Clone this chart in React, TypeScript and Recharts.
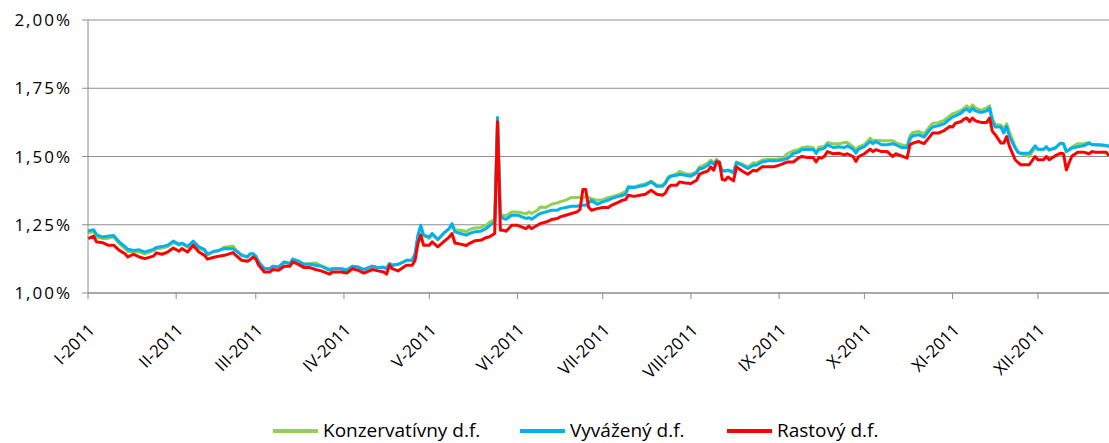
import React from "react";
import { LineChart, Line, CartesianGrid, XAxis, YAxis, Legend } from "recharts";

// day of year 2011 (0 = 1. január)
const days = [
  0, 2, 3, 5, 7, 9, 11, 13, 14, 16, 18, 20, 23, 24, 26, 28, 30, 32, 33, 35, 37, 39, 41, 42, 44, 46, 48, 51,
  52, 54, 56, 57, 58, 59, 60, 62, 64, 65, 67, 69, 71, 72, 74, 76, 78, 80, 82, 85, 86, 89, 91, 93, 95, 97, 100, 102,
  104, 105, 106, 107, 109, 111, 112, 114, 115, 116, 117, 118, 120, 121, 123, 125, 127, 128, 129, 131, 133, 134, 136,
  138, 140, 141, 143, 144, 145, 146, 147, 149, 151, 154,
  155, 156, 158, 159, 161, 163, 165, 166, 168, 170, 172, 173, 174, 175, 176, 177, 179, 181, 183, 184, 186, 188, 189,
  190, 192, 194, 196, 198, 200, 202, 203, 204, 205,
  207, 208, 210, 212, 214, 215, 216, 218, 219, 220, 221, 222, 223, 224, 225, 227, 228, 230, 232, 234, 235, 237, 239,
  241, 242, 244, 246, 248, 250, 251, 253, 255, 256, 257,
  258, 259, 260, 262, 264, 266, 267, 269, 270, 271, 273, 275, 276, 277, 279, 281, 283, 284, 286, 288, 289, 290, 292,
  294, 296, 297, 299, 301, 303, 304, 305, 307, 308,
  309, 310, 311, 312, 314, 316, 317, 318, 319, 321, 322, 323, 324, 326, 327, 328, 330, 331, 333, 334, 336, 337, 338,
  340, 342, 343, 344, 345, 346, 348, 350, 352, 353, 354, 356, 358, 359,
];

const rastovy = [
  1.199, 1.208, 1.187, 1.185, 1.175, 1.175, 1.156, 1.144, 1.132, 1.142, 1.132, 1.126, 1.135, 1.147, 1.142, 1.15, 1.165,
  1.153, 1.163, 1.15, 1.175, 1.15, 1.138, 1.124, 1.13, 1.135, 1.138, 1.148,
  1.138, 1.12, 1.116, 1.122, 1.132, 1.124, 1.102, 1.077, 1.077, 1.086, 1.083, 1.098, 1.098, 1.114, 1.105, 1.093, 1.093,
  1.086, 1.081, 1.069, 1.077, 1.077, 1.073, 1.089, 1.083, 1.073, 1.086, 1.081,
  1.077, 1.069, 1.102, 1.089, 1.081, 1.095, 1.102, 1.102, 1.12, 1.181, 1.212, 1.175, 1.175, 1.187, 1.169, 1.187, 1.205,
  1.218, 1.183, 1.179, 1.174, 1.181, 1.191, 1.193, 1.203, 1.205, 1.218, 1.627, 1.23, 1.23, 1.226, 1.248, 1.248, 1.236,
  1.245, 1.236, 1.248, 1.254, 1.26, 1.269, 1.273, 1.279, 1.285, 1.291, 1.297, 1.306, 1.379, 1.379, 1.315, 1.303, 1.309,
  1.313, 1.313, 1.321, 1.33, 1.34, 1.342, 1.358, 1.354, 1.358, 1.362, 1.376, 1.362, 1.358, 1.366, 1.386, 1.395,
  1.395, 1.407, 1.403, 1.401, 1.413, 1.435, 1.44, 1.447, 1.462, 1.45, 1.48, 1.48, 1.416, 1.413, 1.425, 1.411, 1.462,
  1.447, 1.435, 1.45, 1.447, 1.462, 1.462, 1.462, 1.465, 1.472, 1.48, 1.48, 1.496, 1.5, 1.496, 1.496, 1.48, 1.496,
  1.494, 1.502, 1.518, 1.51, 1.512, 1.506, 1.51, 1.5, 1.482, 1.5, 1.51, 1.527, 1.518, 1.525, 1.518, 1.518, 1.5, 1.51,
  1.502, 1.494, 1.543, 1.549, 1.555, 1.547, 1.573, 1.586, 1.586, 1.595, 1.61, 1.608, 1.622, 1.628, 1.637,
  1.641, 1.628, 1.641, 1.631, 1.625, 1.625, 1.641, 1.592, 1.58, 1.549, 1.549, 1.573, 1.537, 1.488, 1.478, 1.47, 1.47,
  1.47, 1.5, 1.488, 1.488, 1.5, 1.488, 1.502, 1.512, 1.51, 1.451, 1.478, 1.502, 1.516, 1.516, 1.51, 1.518, 1.516,
  1.516, 1.516, 1.502,
];

const vyvazeny = [
  1.227, 1.232, 1.214, 1.205, 1.208, 1.211, 1.187, 1.17, 1.16, 1.156, 1.158, 1.15, 1.16, 1.167, 1.17, 1.175, 1.19,
  1.178, 1.183, 1.171, 1.19, 1.169, 1.159, 1.142, 1.152, 1.156, 1.163, 1.162,
  1.155, 1.138, 1.132, 1.144, 1.144, 1.135, 1.114, 1.089, 1.089, 1.098, 1.095, 1.114, 1.108, 1.124, 1.117, 1.105, 1.105,
  1.102, 1.098, 1.083, 1.089, 1.089, 1.083, 1.098, 1.095, 1.086, 1.098, 1.093,
  1.094, 1.089, 1.108, 1.102, 1.105, 1.114, 1.12, 1.12, 1.144, 1.212, 1.248, 1.212, 1.205, 1.218, 1.196, 1.218, 1.236,
  1.254, 1.224, 1.218, 1.212, 1.218, 1.224, 1.226, 1.236, 1.245, 1.26, 1.643, 1.285, 1.273, 1.27, 1.285, 1.285, 1.273,
  1.276, 1.27, 1.285, 1.291, 1.297, 1.303, 1.303, 1.309, 1.313, 1.318, 1.318, 1.321, 1.321, 1.321, 1.33, 1.34, 1.325,
  1.334, 1.34, 1.346, 1.352, 1.358, 1.362, 1.386, 1.386, 1.391, 1.395, 1.407, 1.391, 1.391, 1.401, 1.419, 1.428,
  1.431, 1.435, 1.431, 1.428, 1.44, 1.456, 1.456, 1.468, 1.48, 1.472, 1.484, 1.47, 1.447, 1.447, 1.45, 1.44, 1.477,
  1.468, 1.456, 1.468, 1.468, 1.48, 1.484, 1.484, 1.484, 1.487, 1.493, 1.511, 1.517, 1.526, 1.526, 1.526, 1.511, 1.526,
  1.527, 1.531, 1.543, 1.533, 1.536, 1.533, 1.539, 1.527, 1.512, 1.527, 1.536, 1.555, 1.547, 1.555, 1.543, 1.543,
  1.547, 1.543, 1.533, 1.533, 1.564, 1.576, 1.58, 1.571, 1.598, 1.608, 1.613, 1.62, 1.637, 1.645, 1.649, 1.659, 1.669,
  1.674, 1.664, 1.677, 1.667, 1.661, 1.667, 1.677, 1.628, 1.608, 1.608, 1.586, 1.61, 1.573, 1.531, 1.515, 1.512, 1.512,
  1.512, 1.539, 1.527, 1.527, 1.536, 1.525, 1.531, 1.549, 1.547, 1.518, 1.525, 1.531, 1.536, 1.539, 1.549, 1.543,
  1.543, 1.543, 1.54, 1.539,
];

const konzervativny = [
  1.22, 1.225, 1.205, 1.2, 1.2, 1.205, 1.18, 1.163, 1.152, 1.15, 1.15, 1.143, 1.155, 1.162, 1.165, 1.17, 1.185, 1.175,
  1.18, 1.168, 1.187, 1.165, 1.155, 1.14, 1.15, 1.155, 1.168, 1.172,
  1.158, 1.14, 1.133, 1.142, 1.144, 1.135, 1.114, 1.09, 1.09, 1.098, 1.095, 1.112, 1.108, 1.124, 1.117, 1.105, 1.108,
  1.11, 1.1, 1.087, 1.09, 1.09, 1.085, 1.098, 1.095, 1.086, 1.098, 1.093,
  1.094, 1.089, 1.108, 1.102, 1.105, 1.114, 1.12, 1.12, 1.14, 1.205, 1.24, 1.21, 1.2, 1.215, 1.195, 1.218, 1.236, 1.25,
  1.232, 1.23, 1.225, 1.232, 1.238, 1.24, 1.248, 1.258, 1.27, 1.64, 1.285, 1.285, 1.283, 1.297, 1.297, 1.29,
  1.297, 1.291, 1.303, 1.315, 1.313, 1.325, 1.33, 1.334, 1.34, 1.35, 1.35, 1.35, 1.35, 1.352, 1.35, 1.345, 1.34, 1.342,
  1.35, 1.352, 1.358, 1.367, 1.37, 1.391, 1.388, 1.395, 1.4, 1.41, 1.395, 1.395, 1.407, 1.425, 1.43,
  1.437, 1.445, 1.437, 1.435, 1.445, 1.462, 1.465, 1.477, 1.487, 1.477, 1.49, 1.475, 1.45, 1.447, 1.45, 1.445, 1.48,
  1.472, 1.462, 1.477, 1.475, 1.487, 1.49, 1.49, 1.49, 1.493, 1.511, 1.521, 1.526, 1.532, 1.536, 1.532, 1.514, 1.534,
  1.536, 1.536, 1.551, 1.547, 1.547, 1.551, 1.551, 1.536, 1.525, 1.536, 1.543, 1.567, 1.558, 1.56, 1.558, 1.558, 1.558,
  1.551, 1.543, 1.539, 1.576, 1.588, 1.592, 1.583, 1.61, 1.622, 1.624, 1.632, 1.649, 1.657, 1.66, 1.669, 1.676,
  1.686, 1.675, 1.689, 1.678, 1.669, 1.678, 1.686, 1.64, 1.617, 1.615, 1.6, 1.62, 1.59, 1.536, 1.518, 1.51, 1.505, 1.5,
  1.531, 1.525, 1.525, 1.533, 1.522, 1.531, 1.549, 1.547, 1.518, 1.525, 1.535, 1.547, 1.547, 1.551, 1.545, 1.543, 1.54,
  1.538, 1.536,
];

const monthStarts = [0, 31, 59, 90, 120, 151, 181, 212, 243, 273, 304, 334];
const monthLabels = [
  "I-2011", "II-2011", "III-2011", "IV-2011", "V-2011", "VI-2011",
  "VII-2011", "VIII-2011", "IX-2011", "X-2011", "XI-2011", "XII-2011",
];
const yTicks = [1, 1.25, 1.5, 1.75, 2];

const series = [
  { key: "konz", name: "Konzervatívny d.f.", color: "#92D050", values: konzervativny },
  { key: "vyv", name: "Vyvážený d.f.", color: "#00B0F0", values: vyvazeny },
  { key: "rast", name: "Rastový d.f.", color: "#FF0000", values: rastovy },
];

const data = days.map((d, i) => ({
  day: d,
  konz: konzervativny[i],
  vyv: vyvazeny[i],
  rast: rastovy[i],
}));

const FONT = "'Open Sans', 'DejaVu Sans', sans-serif";
const GRID = "#8c8c8c";
const C45 = 0.70711;

// month label turned 45° up; written as a matrix so the end of the text sits under the tick
function MonthTick(props: any) {
  const { x, y, payload } = props;
  const label = monthLabels[monthStarts.indexOf(payload.value)];
  const tx = Number(x) + 8;
  const ty = Number(y) + 30;
  return (
    <text
      x={0}
      y={0}
      transform={`matrix(${C45} ${-C45} ${C45} ${C45} ${tx} ${ty})`}
      textAnchor="end"
      fontSize={17}
      fontFamily={FONT}
      fill="#000"
    >
      {label}
    </text>
  );
}

function LegendBox() {
  const widths = [247, 207, undefined];
  return (
    <div style={{ display: "flex", alignItems: "center", fontFamily: FONT, fontSize: 19, lineHeight: 1, color: "#000", whiteSpace: "nowrap" }}>
      {series.map((s, i) => (
        <div key={s.key} style={{ display: "flex", alignItems: "center", width: widths[i] }}>
          <span style={{ display: "inline-block", width: 45, height: 4, background: s.color, marginRight: 5 }} />
          <span>{s.name}</span>
        </div>
      ))}
    </div>
  );
}

export default function App() {
  return (
    <div style={{ position: "absolute", left: 0, top: 0, width: 1109, height: 443, background: "#fff" }}>
      <LineChart width={1109} height={443} data={data} margin={{ top: 20, right: 0, bottom: 0, left: 0 }}>
        <CartesianGrid vertical={false} stroke={GRID} />
        <XAxis
          type="number"
          dataKey="day"
          domain={[0, 359]}
          ticks={monthStarts}
          interval={0}
          height={150}
          stroke={GRID}
          tickSize={6}
          tickMargin={2}
          tick={MonthTick}
        />
        <YAxis
          type="number"
          domain={[1, 2]}
          ticks={yTicks}
          width={88}
          stroke={GRID}
          tickSize={6}
          tickMargin={10}
          tickFormatter={(v: number) => v.toFixed(2).replace(".", ",") + "%"}
          tick={{ fontSize: 17, fill: "#000", fontFamily: FONT, letterSpacing: 2 }}
        />
        {series.map((s) => (
          <Line
            key={s.key}
            type="linear"
            dataKey={s.key}
            name={s.name}
            stroke={s.color}
            strokeWidth={3}
            dot={false}
            activeDot={false}
            strokeLinejoin="round"
            isAnimationActive={false}
          />
        ))}
        <Legend
          layout="horizontal"
          verticalAlign="middle"
          align="center"
          wrapperStyle={{ top: 421, left: 273, width: "auto", height: 19 }}
          content={<LegendBox />}
        />
      </LineChart>
    </div>
  );
}
